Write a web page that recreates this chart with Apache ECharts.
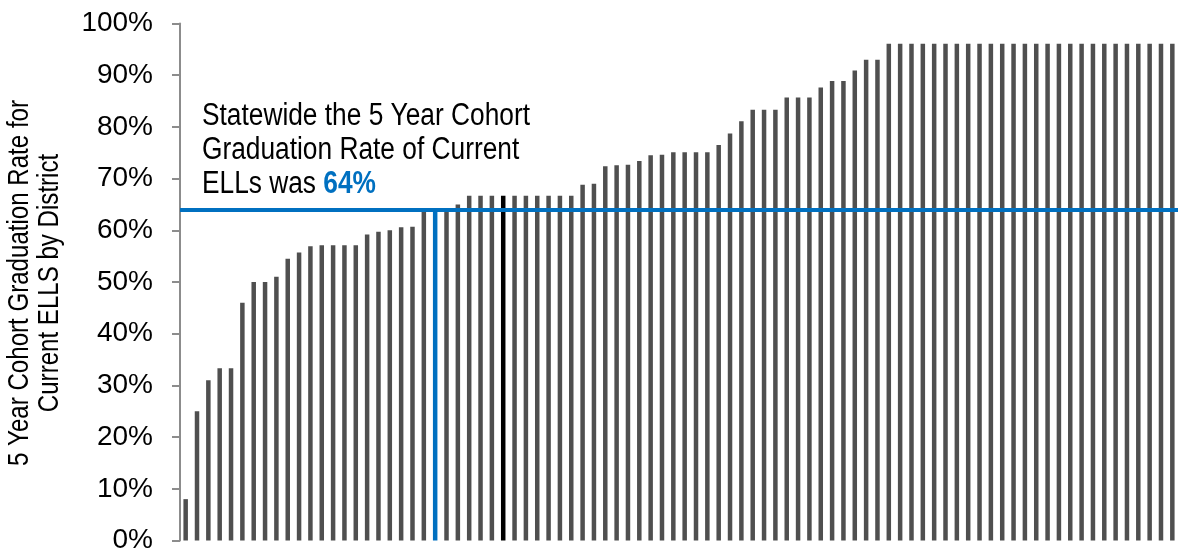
<!DOCTYPE html>
<html>
<head>
<meta charset="utf-8">
<script src="https://cdn.jsdelivr.net/npm/echarts@6/dist/echarts.min.js"></script>
<style>
  html, body { margin: 0; padding: 0; background: #fff; }
  #chart { width: 1182px; height: 553px; }
</style>
</head>
<body>
<div id="chart"></div>
<script>
// District graduation rates (%), sorted ascending
const districtRates = [
  8, 25, 31, 33.3, 33.3, 46, 50, 50, 51, 54.5, 55.7, 56.9, 57.1, 57.1, 57.1, 57.1, 59.2, 59.7, 60, 60.6, 60.7, 63.7,
  64,
  64.2, 65,
  66.7, 66.7, 66.7, 66.7, 66.7, 66.7, 66.7, 66.7, 66.7, 66.7,
  68.8, 69.0, 72.4, 72.6, 72.7, 73.4, 74.5, 74.6, 75.1, 75.1, 75.1, 75.1,
  76.5, 78.7, 81.1, 83.3, 83.3, 83.3, 85.7, 85.7, 85.7, 87.6, 88.9, 88.9, 90.9, 93.0, 93.0,
  96.1, 96.1, 96.1, 96.1, 96.1, 96.1, 96.1, 96.1, 96.1, 96.1, 96.1, 96.1, 96.1,
  96.1, 96.1, 96.1, 96.1, 96.1, 96.1, 96.1, 96.1, 96.1, 96.1, 96.1, 96.1, 96.1
];
const categories = districtRates.map((_, i) => 'District ' + (i + 1));
const statewideRate = 64;
const statewideIndex = 22;   // bar showing statewide rate
const highlightIndex = 28;   // highlighted district
const yTickValues = [0, 10, 20, 30, 40, 50, 60, 70, 80, 90, 100];
const yAxisTitleLines = ['5 Year Cohort Graduation Rate for', 'Current ELLS by District'];
const noteLines = ['Statewide the 5 Year Cohort', 'Graduation Rate of Current', 'ELLs was '];

const GRAY = '#4F4F4F', BLUE = '#0070C0', BLACK = '#000000';
const SANS = '"Liberation Sans", Arial, sans-serif';

// narrow-font emulation: measure with Liberation Sans and compress horizontally
const mctx = document.createElement('canvas').getContext('2d');
function measure(txt, size, weight) {
  mctx.font = (weight || 'normal') + ' ' + size + 'px ' + SANS;
  return mctx.measureText(txt).width;
}
const NOTE_SIZE = 31;
const noteScale = 328 / measure(noteLines[0], NOTE_SIZE);
const TITLE_SIZE = 30;
const titleScale = 366 / measure(yAxisTitleLines[0], TITLE_SIZE);

const barData = districtRates.map((v, i) => {
  if (i === statewideIndex) return { value: v, itemStyle: { color: BLUE, borderColor: BLUE, borderWidth: 1.8 } };
  if (i === highlightIndex) return { value: v, itemStyle: { color: BLACK } };
  return v;
});

const chart = echarts.init(document.getElementById('chart'));
chart.setOption({
  animation: false,
  backgroundColor: '#ffffff',
  grid: { left: 180, right: 4, top: 23.5, bottom: 12.5, containLabel: false, outerBoundsMode: 'none' },
  xAxis: {
    type: 'category',
    data: categories,
    boundaryGap: true,
    axisLine: { show: false },
    axisTick: { show: false },
    axisLabel: { show: false },
    splitLine: { show: false }
  },
  yAxis: {
    type: 'value',
    min: yTickValues[0],
    max: yTickValues[yTickValues.length - 1],
    interval: 10,
    axisLine: { show: true, lineStyle: { color: '#8C8C8C', width: 2 } },
    axisTick: { show: true, inside: false, length: 8, lineStyle: { color: '#8C8C8C', width: 2 } },
    axisLabel: {
      formatter: '{value}%',
      fontFamily: SANS,
      fontSize: 28,
      color: '#000',
      margin: 27
    },
    splitLine: { show: false }
  },
  series: [{
    type: 'bar',
    data: barData,
    barWidth: 4.5,
    itemStyle: { color: GRAY },
    markLine: {
      silent: true,
      symbol: ['none', 'none'],
      label: { show: false },
      lineStyle: { color: BLUE, width: 4, type: 'solid' },
      data: [{ yAxis: statewideRate }]
    }
  }],
  graphic: [{
    type: 'text',
    x: 202,
    y: 99,
    scaleX: noteScale,
    silent: true,
    style: {
      text: '{a|' + noteLines[0] + '}\n{a|' + noteLines[1] + '}\n{a|' + noteLines[2] + '}{b|' + statewideRate + '%}',
      align: 'left',
      verticalAlign: 'top',
      fontFamily: SANS,
      fontSize: NOTE_SIZE,
      lineHeight: 34,
      fill: '#000',
      rich: {
        a: { fontFamily: SANS, fontSize: NOTE_SIZE, lineHeight: 34, fill: '#000' },
        b: { fontFamily: SANS, fontSize: NOTE_SIZE, lineHeight: 34, fontWeight: 'bold', fill: BLUE }
      }
    }
  }, {
    type: 'text',
    x: 35,
    y: 283,
    rotation: Math.PI / 2,
    scaleX: titleScale,
    silent: true,
    style: {
      text: yAxisTitleLines.join('\n'),
      align: 'center',
      verticalAlign: 'middle',
      fontFamily: SANS,
      fontSize: TITLE_SIZE,
      lineHeight: 30,
      fill: '#000'
    }
  }]
});
</script>
</body>
</html>
